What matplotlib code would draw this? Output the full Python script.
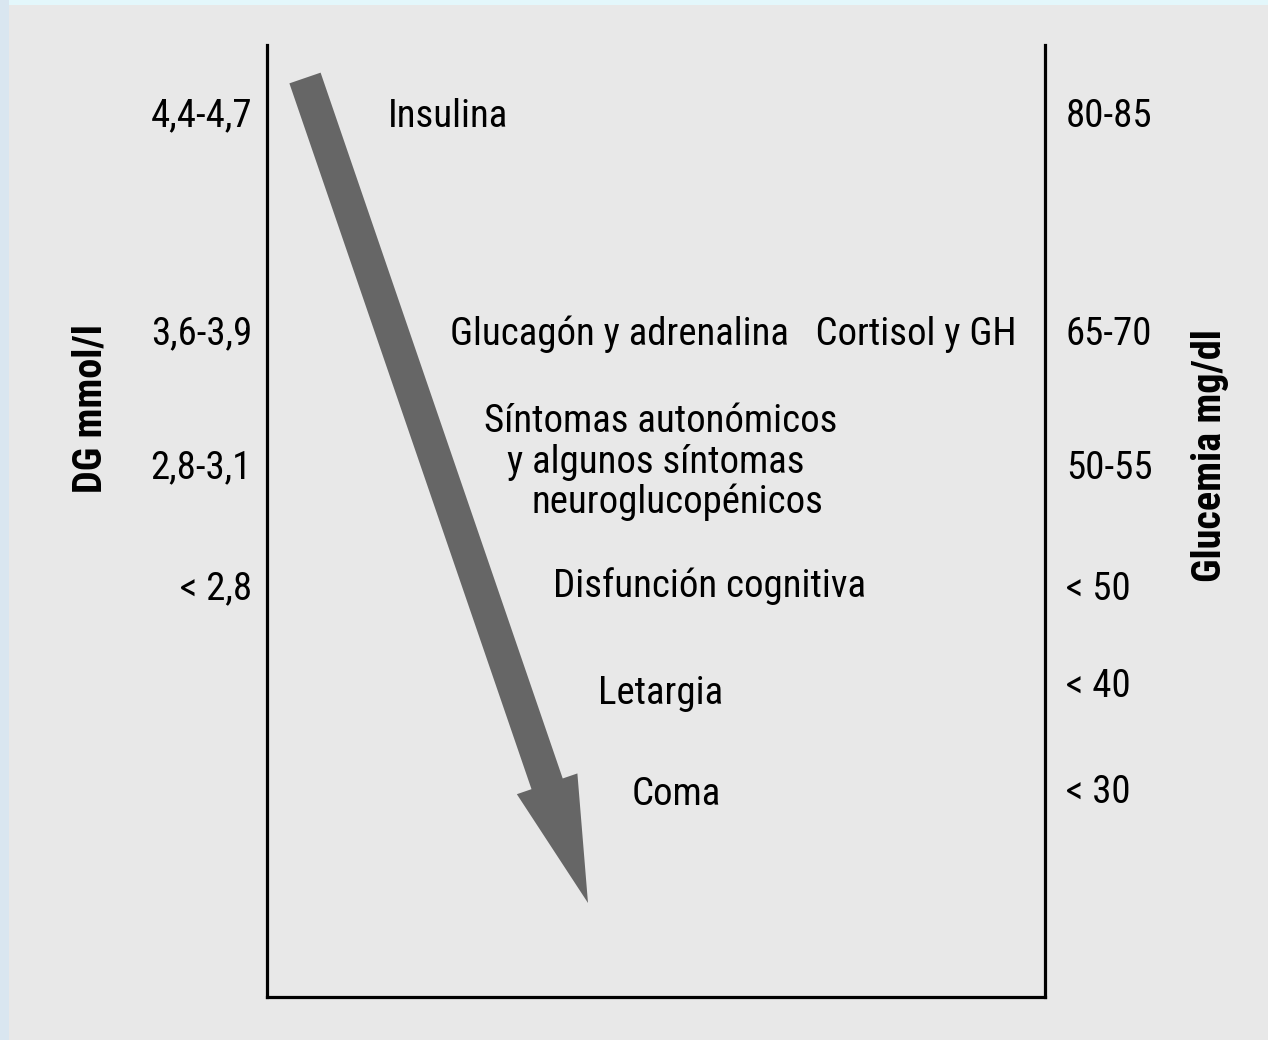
import matplotlib
matplotlib.use("Agg")
import matplotlib.pyplot as plt
from matplotlib.patches import FancyArrow, Rectangle

# ---- data ----
left_labels = ["4,4-4,7", "3,6-3,9", "2,8-3,1", "< 2,8"]
left_levels = [116, 334, 468, 589]
right_labels = ["80-85", "65-70", "50-55", "< 50", "< 40", "< 30"]
right_levels = [116, 334, 468, 589, 686, 792]
events = ["Insulina",
          "Glucagón y adrenalina   Cortisol y GH",
          "Síntomas autonómicos",
          "y algunos síntomas",
          "neuroglucopénicos",
          "Disfunción cognitiva",
          "Letargia",
          "Coma"]
event_x = [388, 450, 484, 507, 531, 553, 598, 632]
event_y = [116, 334, 421, 462, 502, 586, 693, 794]
arrow_start = (305, 78)
arrow_end = (588, 903)
left_title = "DG mmol/l"
right_title = "Glucemia mg/dl"

FONT = ["Roboto Condensed", "Liberation Sans Narrow", "DejaVu Sans"]
W, H = 1268, 1040
fig = plt.figure(figsize=(W / 100, H / 100), dpi=100)
fig.patch.set_facecolor("#e3f7fb")
fig.patches.append(Rectangle((0, 0), 9 / W, 1, transform=fig.transFigure,
                             facecolor="#d9e6f0", edgecolor="none", zorder=-5))
fig.patches.append(Rectangle((9 / W, 0), 1, 1 - 5 / H, transform=fig.transFigure,
                             facecolor="#e8e8e8", edgecolor="none", zorder=-5))

x0, x1, yb, yt = 267, 1045, 997, 45
ax = fig.add_axes([x0 / W, 1 - yb / H, (x1 - x0) / W, (yb - yt) / H])
ax.set_zorder(5)
ax.set_xlim(x0, x1)
ax.set_ylim(yb, yt)
ax.set_facecolor("none")
ax.set_xticks([])
ax.set_yticks([])
ax.spines["top"].set_visible(False)
for s in ["left", "right", "bottom"]:
    ax.spines[s].set_linewidth(2.3)
    ax.spines[s].set_color("black")

fs = 28
for lab, y in zip(left_labels, left_levels):
    ax.text(252, y, lab, ha="right", va="center", fontsize=fs, family=FONT,
            clip_on=False)
for lab, y in zip(right_labels, right_levels):
    ax.text(1066, y, lab, ha="left", va="center", fontsize=fs, family=FONT,
            clip_on=False)
for lab, x, y in zip(events, event_x, event_y):
    ax.text(x, y, lab, ha="left", va="center", fontsize=fs, family=FONT)

ax.text(90, 409, left_title, rotation=90, ha="center", va="center",
        fontsize=29, fontweight="bold", family=FONT, clip_on=False)
ax.text(1210, 456, right_title, rotation=90, ha="center", va="center",
        fontsize=29, fontweight="bold", family=FONT, clip_on=False)

dx = arrow_end[0] - arrow_start[0]
dy = arrow_end[1] - arrow_start[1]
arr = FancyArrow(arrow_start[0], arrow_start[1], dx, dy, width=33,
                 head_width=64, head_length=126, length_includes_head=True,
                 facecolor="#666666", edgecolor="none")
ax.add_patch(arr)

fig.savefig("out.png", dpi=100)
